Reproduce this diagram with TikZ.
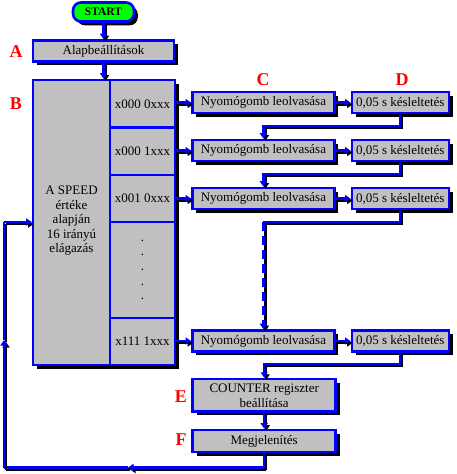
\documentclass[tikz,border=0pt]{standalone}
\usepackage{fontspec}
\setmainfont{Liberation Serif}
\usetikzlibrary{arrows.meta,shadows}
\definecolor{boxgray}{RGB}{192,192,192}
\definecolor{lineblue}{RGB}{0,0,255}
\definecolor{startgreen}{RGB}{0,255,0}
\tikzset{
  box/.style={draw=lineblue, fill=boxgray, line width=2.6pt, inner sep=0pt,
    minimum height=21pt, align=center,
    font=\fontsize{13}{15}\selectfont,
    drop shadow={shadow xshift=3.8pt, shadow yshift=-3.8pt, fill=black, opacity=1}},
  cell/.style={draw=lineblue, fill=boxgray, line width=2.6pt, inner sep=0pt,
    minimum width=65pt, align=center, font=\fontsize{13}{14.7}\selectfont},
  link/.style={draw=lineblue, line width=2.2pt,
    preaction={draw=black, line width=2.2pt, transform canvas={xshift=2pt, yshift=-2pt}}},
  flow/.style={link, -{Triangle[length=5.5pt, width=7pt]}},
  letter/.style={text=red, font=\fontsize{18}{18}\bfseries\selectfont},
}
\begin{document}
\begin{tikzpicture}[x=1pt, y=-1pt]
\useasboundingbox (0,0) rectangle (456,474);

% start and basic settings
\node[box, fill=startgreen, rounded corners=8pt, minimum width=61pt, minimum height=19pt,
  font=\fontsize{11.5}{11.5}\bfseries\selectfont] (start) at (103.5,12) {START};
\node[box, minimum width=141pt] (alap) at (103.5,51) {Alapbeállítások};

% branching block
\node[box, minimum width=142pt, minimum height=285pt] (branch) at (104,222.5) {};
\node[font=\fontsize{13}{14.5}\selectfont, align=center] (branch text) at (71.5,221)
  {A SPEED\\értéke\\alapján\\16 irányú\\elágazás};
\draw[lineblue, line width=2.6pt] (branch.north -| 110,0) -- (branch.south -| 110,0);

\foreach \i/\top/\bot/\code in {1/80/127.5/x000 0xxx, 2/127.5/175/x000 1xxx,
  3/175/222/x001 0xxx, dots/222/318/{.\\.\\.\\.\\.}, 4/318/365/x111 1xxx}
{
  \node[cell, minimum height={(\bot-\top)*1pt}] (cell\i) at (142.5,{(\top+\bot)/2}) {\code};
}

% reading and delay
\foreach \i/\y in {1/102.5, 2/150.5, 3/198.5, 4/341}
{
  \node[box, minimum width=142pt] (read\i) at (263.4,\y) {Nyomógomb leolvasása};
  \node[box, minimum width=97pt] (wait\i) at (400.3,\y) {0,05 s késleltetés};
  \draw[flow] (cell\i.east |- read\i.west) -- (read\i.west);
  \draw[flow] (read\i.east) -- (wait\i.west);
}

\foreach \i/\j in {1/2, 2/3}
{
  \draw[flow] (wait\i.south) -- ++(0,12) -| (read\j.north);
}
\coordinate (gap) at (263.4,222);
\draw[link] (wait3.south) |- (gap);
\draw[flow, dash pattern=on 9pt off 5pt] (gap) -- (read4.north);

% counter and display
\node[box, minimum width=143pt, minimum height=32.5pt] (counter) at (264.2,395.3)
  {COUNTER regiszter\\beállítása};
\node[box, minimum width=143pt, minimum height=22pt] (show) at (264.2,441) {Megjelenítés};
\draw[flow] (wait4.south) -- ++(0,11) -| (counter.north);
\draw[flow] (counter.south) -- (show.north);
\draw[flow] (start.south) -- (alap.north);
\draw[flow] (alap.south) -- (alap.south |- branch.north);

% loop back
\coordinate (loop a) at (264.2,467.5);
\coordinate (loop b) at (128,467.5);
\coordinate (loop c) at (4,467.5);
\coordinate (loop d) at (4,340);
\coordinate (loop e) at (4,222);
\draw[link] (show.south) -- (loop a);
\draw[flow] (loop a) -- (loop b);
\draw[link] (loop b) -- (loop c);
\draw[flow] (loop c) -- (loop d);
\draw[link] (loop d) -- (loop e);
\draw[flow] (loop e) -- (loop e -| branch.west);

% letters
\node[letter] (A) at (16,52) {A};
\node[letter] (B) at (16,104) {B};
\node[letter] (C) at (263,80) {C};
\node[letter] (D) at (402,80) {D};
\node[letter] (E) at (181,397) {E};
\node[letter] (F) at (181,440) {F};
\end{tikzpicture}
\end{document}
